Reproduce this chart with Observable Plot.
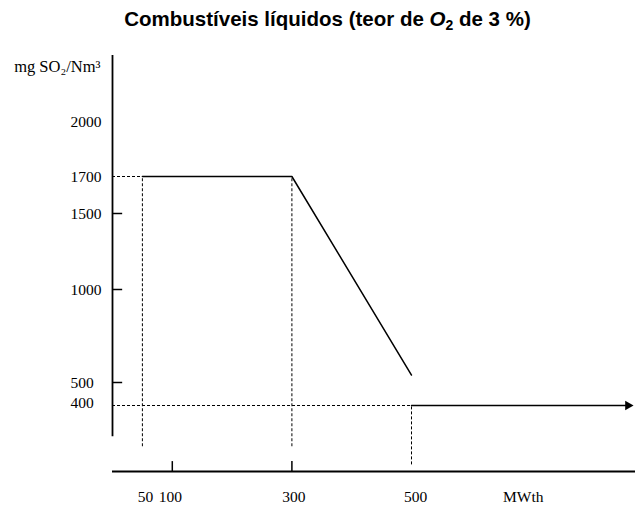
<!DOCTYPE html>
<html>
<head>
<meta charset="utf-8">
<script src="https://cdn.jsdelivr.net/npm/d3@7"></script>
<script src="https://cdn.jsdelivr.net/npm/@observablehq/plot@0.6"></script>
<style>
  html, body { margin: 0; padding: 0; background: #fff; }
  #title { height: 40px; line-height: 24px; padding-top: 7px; text-align: center; padding-left: 20px; box-sizing: border-box; width: 635px;
    font: bold 20.5px "Liberation Sans", Arial, sans-serif; color: #000; white-space: nowrap; overflow: visible; }
  #title sub { font-size: 14px; vertical-align: -4px; line-height: 0; }
  svg { display: block; }
</style>
</head>
<body>
<div id="title">Combustíveis líquidos (teor de <i>O</i><sub>2</sub> de 3 %)</div>
<div id="chart"></div>
<script>
// Curve of emission limit (MWth vs mg SO2/Nm3)
const limitMW = [50, 300, 500];
const limitSO2 = [1700, 1700, 540];
// Tail above 500 MWth (arrow)
const tailMW = [500, 862];
const tailSO2 = [400, 400];
// Axis ticks and labels
const yTickLabels = [2000, 1700, 1500, 1000, 500, 400];
const yTickMarks = [1500, 1000, 500];
const xTickLabels = ["50", "100", "300", "500"];
const xTickValues = [50, 100, 300, 500];
const xTickMarks = [100, 300];
const yTitle = "mg SO₂/Nm³";
const xTitle = "MWth";
const xTitleAt = 687;
const yTitleAt = 2330;

const serif = '"Liberation Serif", "Times New Roman", serif';
const dash = "3,2";
const xLabelShift = [3, -2, 2, 4];

const chart = Plot.plot({
  width: 635,
  height: 466,
  marginLeft: 0, marginRight: 0, marginTop: 0, marginBottom: 0,
  x: { type: "linear", domain: [0, 500], range: [112, 411], axis: null },
  y: { type: "linear", domain: [0, 400, 500, 1000, 1500, 1700, 2000, 2400],
       range: [431, 365, 342, 249, 173, 136, 81, 15], axis: null },
  marks: [
    // dashed guide lines
    Plot.ruleY([1700], { x1: 0, x2: 50, stroke: "#000", strokeWidth: 1, strokeDasharray: dash }),
    Plot.ruleY([400], { x1: 0, x2: 500, stroke: "#000", strokeWidth: 1, strokeDasharray: dash }),
    Plot.ruleX([50, 300], { y1: 150, y2: 1700, stroke: "#000", strokeWidth: 1, strokeDasharray: dash }),
    Plot.ruleX([500], { y1: 40, y2: 400, stroke: "#000", strokeWidth: 1, strokeDasharray: dash }),
    // axes
    Plot.ruleX([0], { y1: 210, y2: 2400, stroke: "#000", strokeWidth: 1.8 }),
    Plot.ruleY(yTickMarks, { x1: 0, x2: 17, stroke: "#000", strokeWidth: 1.5 }),
    Plot.ruleY([0], { x1: 0, x2: 880, stroke: "#000", strokeWidth: 1.8 }),
    Plot.ruleX(xTickMarks, { y1: 0, y2: 60, stroke: "#000", strokeWidth: 1.5 }),
    // limit curve
    Plot.line(limitMW.map((d, i) => ({ x: d, y: limitSO2[i] })), { x: "x", y: "y", stroke: "#000", strokeWidth: 1.5 }),
    Plot.line(tailMW.map((d, i) => ({ x: d, y: tailSO2[i] })), { x: "x", y: "y", stroke: "#000", strokeWidth: 1.5 }),
    Plot.dot([{ x: tailMW[1], y: tailSO2[1] }], { x: "x", y: "y", symbol: "triangle", rotate: 90, r: 3.6, fill: "#000", stroke: null }),
    // y tick labels
    Plot.text(yTickLabels.filter(d => d !== 400), { x: 0, y: d => d, text: d => String(d), dx: -42, dy: 1, textAnchor: "start", fontSize: 15.5, fontFamily: serif, fill: "#000" }),
    Plot.text([400], { x: 0, y: d => d, text: d => String(d), dx: -42, dy: -2, textAnchor: "start", fontSize: 15.5, fontFamily: serif, fill: "#000" }),
    // x tick labels
    ...xTickValues.map((v, i) => Plot.text([v], { x: d => d, y: 0, text: () => xTickLabels[i], dx: xLabelShift[i], dy: 26, fontSize: 15.5, fontFamily: serif, fill: "#000" })),
    // axis titles
    Plot.text([xTitle], { x: xTitleAt, y: 0, text: d => d, dy: 26, fontSize: 15.5, fontFamily: serif, fill: "#000" }),
    Plot.text([yTitle], { x: 0, y: yTitleAt, text: d => d, dx: -12, textAnchor: "end", fontSize: 16.5, fontFamily: serif, fill: "#000" })
  ]
});
document.getElementById("chart").appendChild(chart);
</script>
</body>
</html>
